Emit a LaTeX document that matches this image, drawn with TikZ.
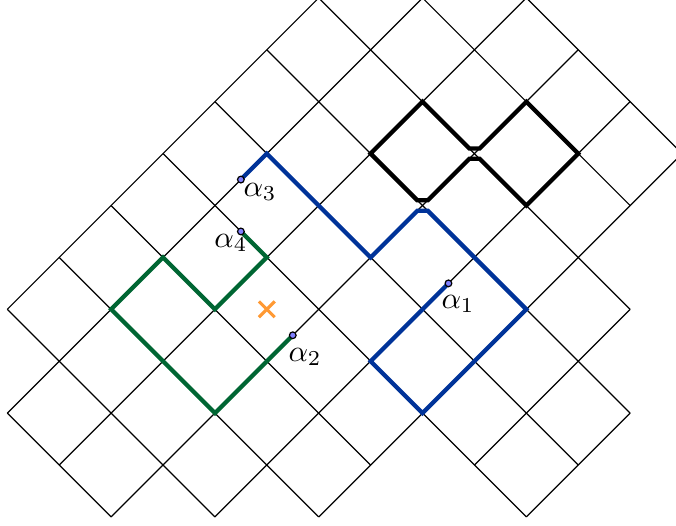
\documentclass[tikz,border=0pt]{standalone}
\usepackage{amssymb,amsfonts,amsmath}
\usepackage[dvipsnames]{xcolor}
\usepackage{tikz}
\usetikzlibrary{shapes.misc}

\definecolor{pathblue}{RGB}{0,51,153}
\definecolor{pathgreen}{RGB}{0,102,51}
\definecolor{poleorange}{RGB}{255,153,51}
\definecolor{dotfill}{RGB}{128,128,255}

\tikzset{
    lattice/.style={line width=0.4pt, color=black},
    walk/.style={line width=1.4pt},
    endpt/.style={circle, draw=black, fill=dotfill, line width=0.4pt, inner sep=0pt, minimum size=2.2pt},
    pole/.style={cross out, draw=poleorange, line width=1pt, inner sep=0pt, minimum size=4.2pt}
}

\begin{document}
\begin{tikzpicture}[x=0.6cm, y=-0.6cm]
    \clip (-0.141,0.04) rectangle (12.884,10.156);

    % lines going up to the right
    \draw[lattice] (0,6) to (6,0);
    \draw[lattice] (0,8) to (8,0);
    \draw[lattice] (1,9) to (10,0);
    \draw[lattice] (2,10) to (11,1);
    \draw[lattice] (4,10) to (12,2);
    \draw[lattice] (6,10) to (13,3);
    \draw[lattice] (9,9) to (12,6);
    \draw[lattice] (10,10) to (12,8);

    % lines going down to the right
    \draw[lattice] (10,0) to (13,3);
    \draw[lattice] (8,0) to (12,4);
    \draw[lattice] (6,0) to (12,6);
    \draw[lattice] (5,1) to (12,8);
    \draw[lattice] (4,2) to (11,9);
    \draw[lattice] (3,3) to (10,10);
    \draw[lattice] (2,4) to (7,9);
    \draw[lattice] (1,5) to (6,10);
    \draw[lattice] (0,6) to (4,10);
    \draw[lattice] (0,8) to (2,10);

    \coordinate (a1) at (8.5,5.5);
    \coordinate (a2) at (5.5,6.5);
    \coordinate (a3) at (4.5,3.5);
    \coordinate (a4) at (4.5,4.5);

    \draw[walk, color=black] (7,3) -- (8,2) -- (8.9,2.9) -- (9.1,2.9) -- (10,2) -- (11,3)
        -- (10,4) -- (9.1,3.1) -- (8.9,3.1) -- (8.1,3.9) -- (7.9,3.9) -- cycle;
    \draw[walk, color=pathblue] (a3) -- (5,3) -- (7,5) -- (7.9,4.1) -- (8.1,4.1) -- (10,6)
        -- (8,8) -- (7,7) -- (a1);
    \draw[walk, color=pathgreen] (a4) -- (5,5) -- (4,6) -- (3,5) -- (2,6) -- (4,8) -- (a2);

    \node[pole] (x) at (5,6) {};

    \node[endpt] (d1) at (a1) {};
    \node[endpt] (d2) at (a2) {};
    \node[endpt] (d3) at (a3) {};
    \node[endpt] (d4) at (a4) {};

    \node (l1) at (8.685,5.9) {$\alpha_1$};
    \node (l2) at (5.737,6.92) {$\alpha_2$};
    \node (l3) at (4.87,3.74) {$\alpha_3$};
    \node (l4) at (4.31,4.72) {$\alpha_4$};
\end{tikzpicture}
\end{document}
